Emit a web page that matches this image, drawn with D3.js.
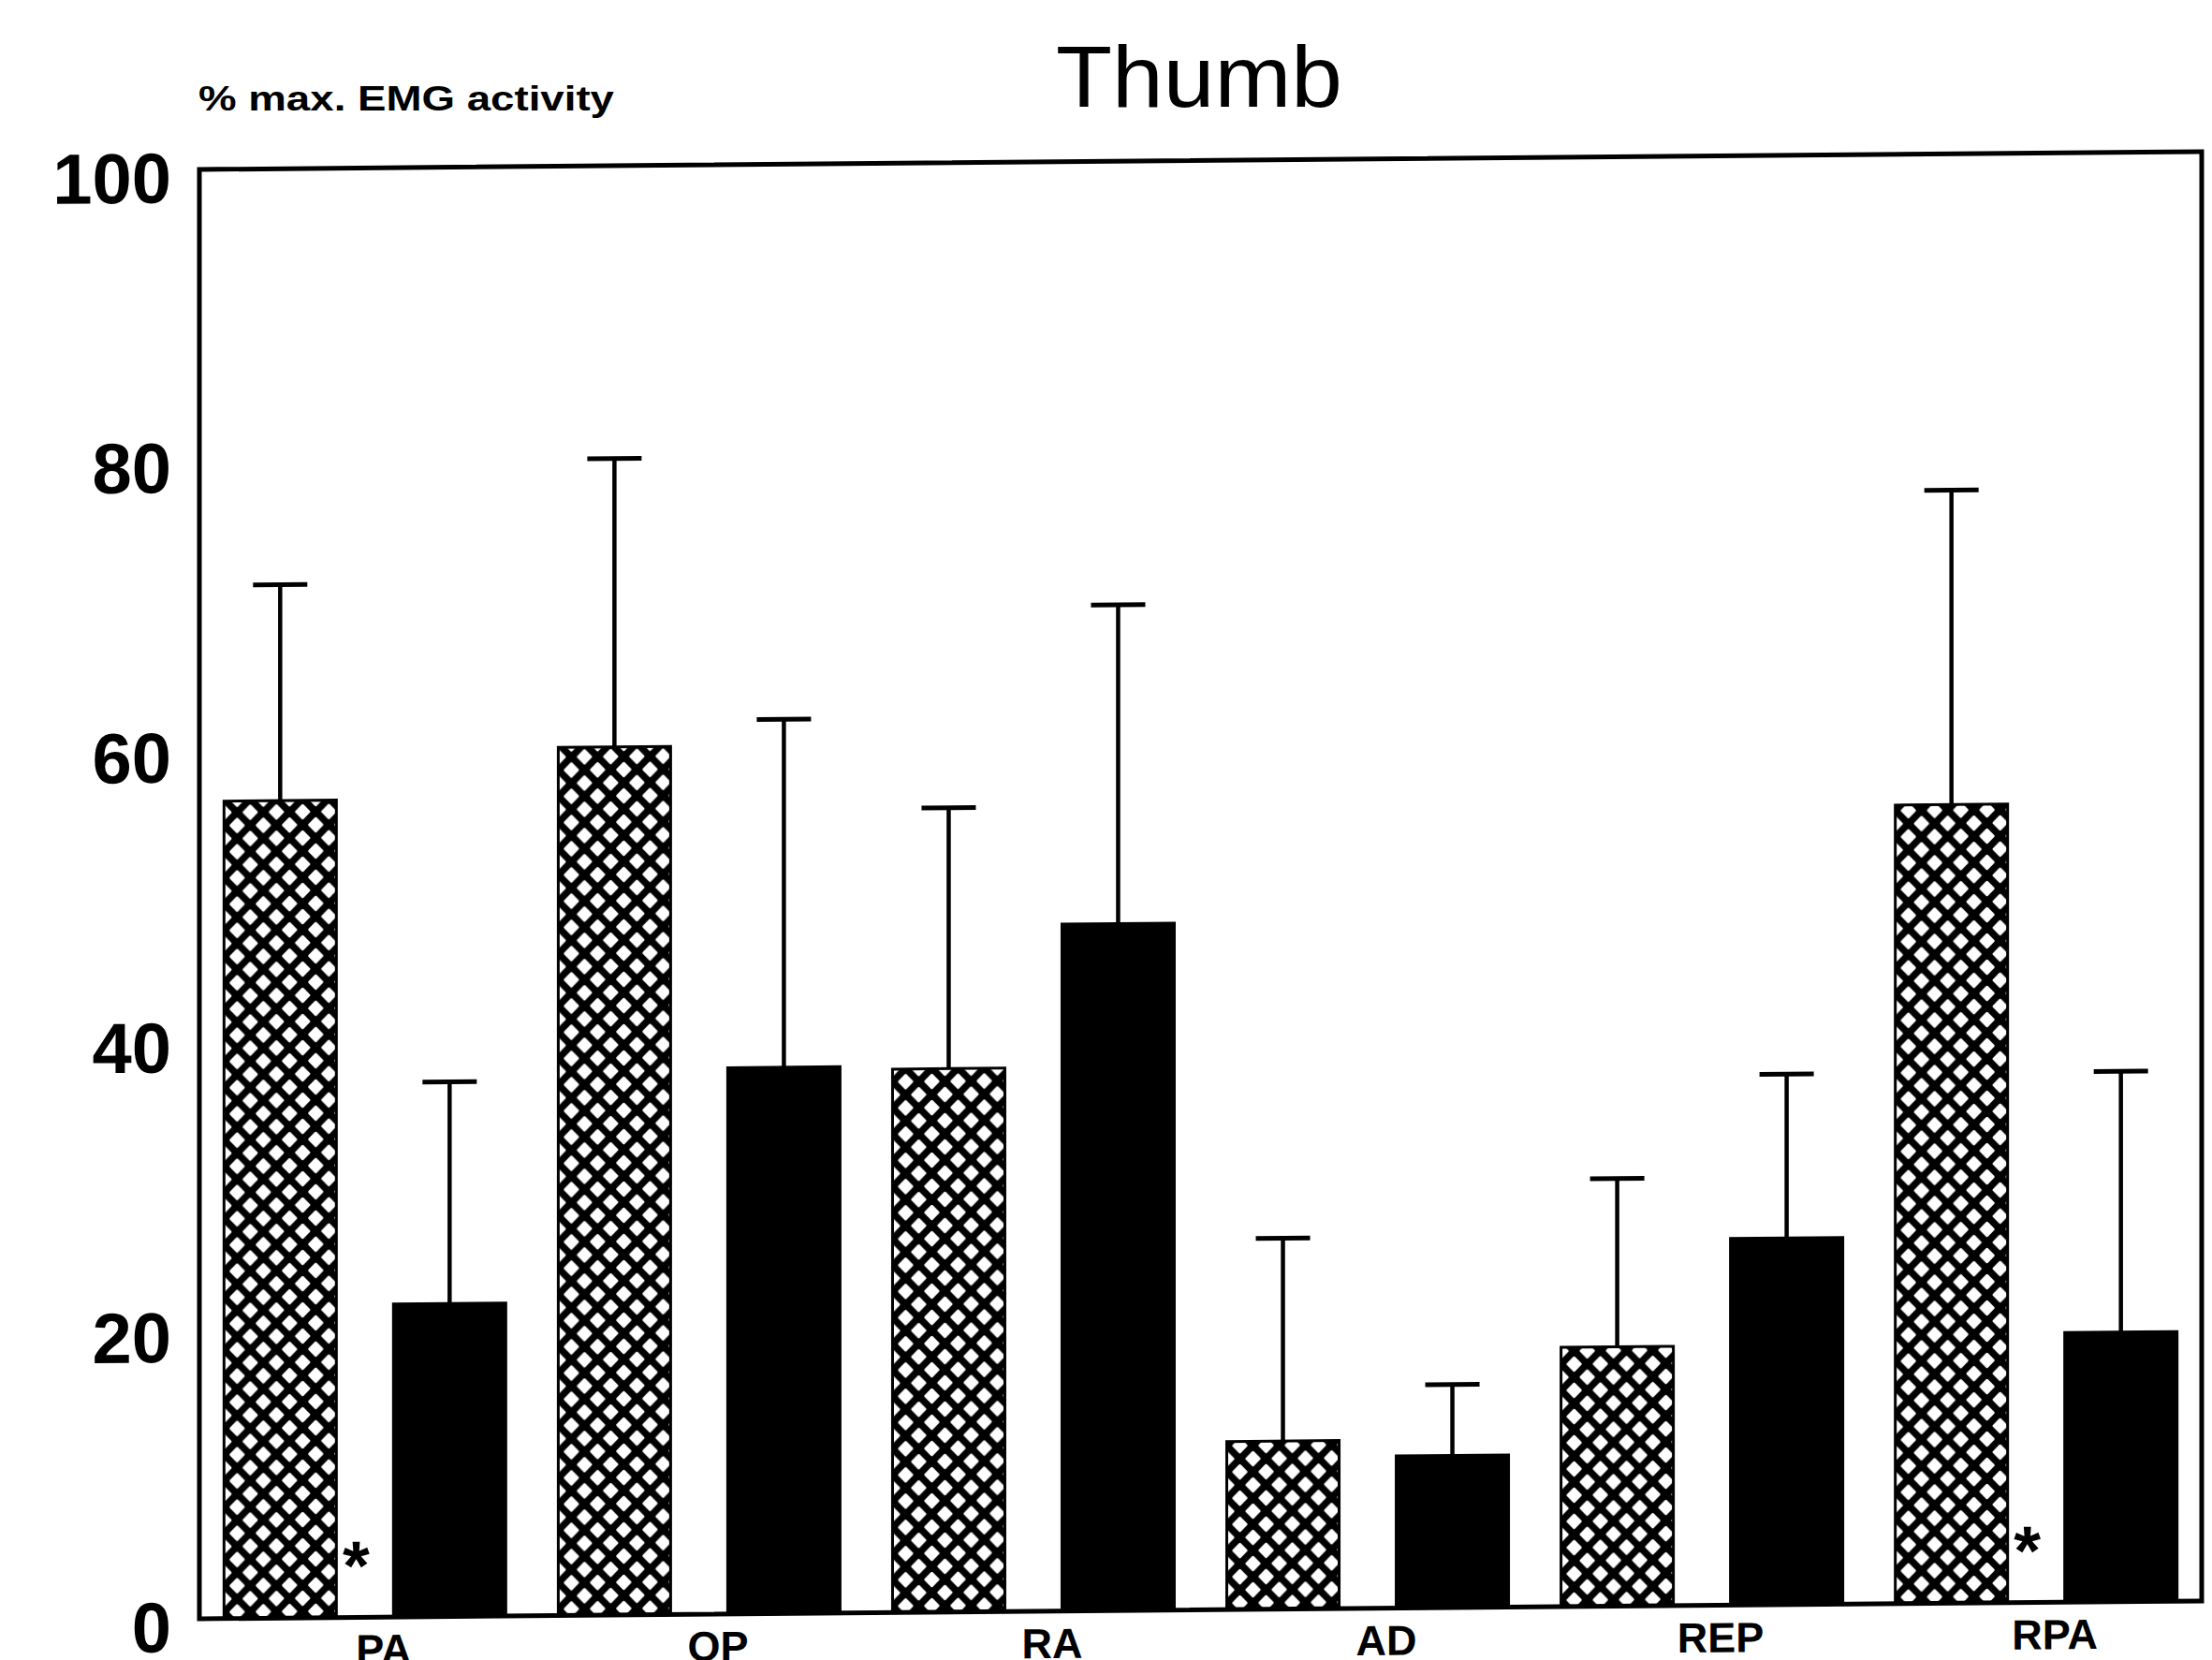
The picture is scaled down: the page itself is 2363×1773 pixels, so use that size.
<!DOCTYPE html>
<html><head><meta charset="utf-8">
<script src="https://cdn.jsdelivr.net/npm/d3@7"></script>
<style>html,body{margin:0;padding:0;background:#fff;overflow:hidden}</style>
</head><body><svg id="chart" width="2363" height="1773"></svg>
<script>
// ---- data ----
const categories = ["PA", "OP", "RA", "AD", "REP", "RPA"];
const seriesNames = ["hatched", "solid"];
const hatchedMean = [56.4, 59.9, 37.5, 11.6, 17.9, 55.1];
const hatchedSD   = [14.9, 19.9, 18.0, 14.0, 11.6, 21.7];
const solidMean   = [21.6, 37.7, 47.4, 10.5, 25.3, 18.6];
const solidSD     = [15.3, 24.0, 22.0, 4.9, 11.3, 18.0];
const significant = [true, false, false, false, false, true];
const yTicks = [0, 20, 40, 60, 80, 100];
const titleText = "Thumb";
const yLabelText = "% max. EMG activity";

// ---- layout ----
const plotLeft = 213, plotRight = 2352, plotTop = 181, plotBottom = 1729;
const svg = d3.select("#chart");

const defs = svg.append("defs");
const pat = defs.append("pattern").attr("id", "hatch")
  .attr("patternUnits", "userSpaceOnUse").attr("width", 28).attr("height", 28);
pat.append("rect").attr("width", 28).attr("height", 28).attr("fill", "#000");
const hole = 6.6;
[[0,0],[28,0],[0,28],[28,28],[14,14]].forEach(([cx, cy]) =>
  pat.append("path")
    .attr("d", `M${cx},${cy - hole}L${cx + hole},${cy}L${cx},${cy + hole}L${cx - hole},${cy}Z`)
    .attr("fill", "#fff").attr("stroke", "#fff").attr("stroke-width", 3)
    .attr("stroke-linejoin", "round"));

const x = d3.scaleBand().domain(categories).range([plotLeft, plotRight])
  .paddingInner(0.157).paddingOuter(0.0737);
const xs = d3.scaleBand().domain(seriesNames).range([0, x.bandwidth()])
  .paddingInner(0.337).paddingOuter(0);
const y = d3.scaleLinear().domain([0, 100]).range([plotBottom, plotTop]);

// title and y label
svg.append("text").attr("x", 1281).attr("y", 114).attr("text-anchor", "middle")
  .attr("font-family", "Liberation Sans, Arial, sans-serif").attr("font-size", 92)
  .attr("textLength", 306).attr("lengthAdjust", "spacingAndGlyphs")
  .text(titleText);
svg.append("text").attr("x", 212).attr("y", 118)
  .attr("font-family", "Liberation Sans, Arial, sans-serif").attr("font-weight", "bold")
  .attr("font-size", 37).attr("textLength", 444).attr("lengthAdjust", "spacingAndGlyphs")
  .text(yLabelText);

// slight scan skew of the original figure
const g = svg.append("g")
  .attr("transform", `translate(${plotLeft},${plotBottom}) skewY(-0.51) translate(${-plotLeft},${-plotBottom})`);

// y axis tick labels
const yAxis = d3.axisLeft(y).tickValues(yTicks).tickSize(0).tickPadding(0).tickFormat(d3.format("d"));
const ya = g.append("g").attr("transform", `translate(${plotLeft - 30},0)`).call(yAxis);
ya.select(".domain").remove();
ya.selectAll("text").attr("font-family", "Liberation Sans, Arial, sans-serif")
  .attr("font-weight", "bold").attr("font-size", 76).attr("fill", "#000")
  .attr("dy", "0.46em");

// bars
const data = categories.map((c, i) => ({
  cat: c,
  vals: [
    { s: "hatched", m: hatchedMean[i], sd: hatchedSD[i] },
    { s: "solid", m: solidMean[i], sd: solidSD[i] }
  ],
  sig: significant[i]
}));

const grp = g.selectAll(".grp").data(data).enter().append("g")
  .attr("transform", d => `translate(${x(d.cat)},0)`);

const bars = grp.selectAll(".bar").data(d => d.vals).enter().append("g");
bars.append("line")
  .attr("x1", d => xs(d.s) + xs.bandwidth() / 2).attr("x2", d => xs(d.s) + xs.bandwidth() / 2)
  .attr("y1", d => y(d.m)).attr("y2", d => y(d.m + d.sd))
  .attr("stroke", "#000").attr("stroke-width", 4.5);
bars.append("line")
  .attr("x1", d => xs(d.s) + xs.bandwidth() / 2 - 29).attr("x2", d => xs(d.s) + xs.bandwidth() / 2 + 29)
  .attr("y1", d => y(d.m + d.sd)).attr("y2", d => y(d.m + d.sd))
  .attr("stroke", "#000").attr("stroke-width", 5);
bars.append("rect")
  .attr("x", d => xs(d.s)).attr("width", xs.bandwidth())
  .attr("y", d => y(d.m)).attr("height", d => y(0) - y(d.m))
  .attr("fill", d => d.s === "hatched" ? "url(#hatch)" : "#000")
  .attr("stroke", "#000").attr("stroke-width", 3);

// significance stars
grp.filter(d => d.sig).append("text")
  .attr("x", xs("solid") - 40).attr("y", y(0) - 30)
  .attr("text-anchor", "middle")
  .attr("font-family", "Liberation Sans, Arial, sans-serif").attr("font-weight", "bold")
  .attr("font-size", 74).text("*");

// frame
g.append("rect").attr("x", plotLeft).attr("y", plotTop)
  .attr("width", plotRight - plotLeft).attr("height", plotBottom - plotTop)
  .attr("fill", "none").attr("stroke", "#000").attr("stroke-width", 5);

// category labels
g.selectAll(".cat").data(categories).enter().append("text")
  .attr("x", d => x(d) + x.bandwidth() / 2 + 20).attr("y", plotBottom + 50)
  .attr("text-anchor", "middle")
  .attr("font-family", "Liberation Sans, Arial, sans-serif").attr("font-weight", "bold")
  .attr("font-size", 45).text(d => d);
</script></body></html>
